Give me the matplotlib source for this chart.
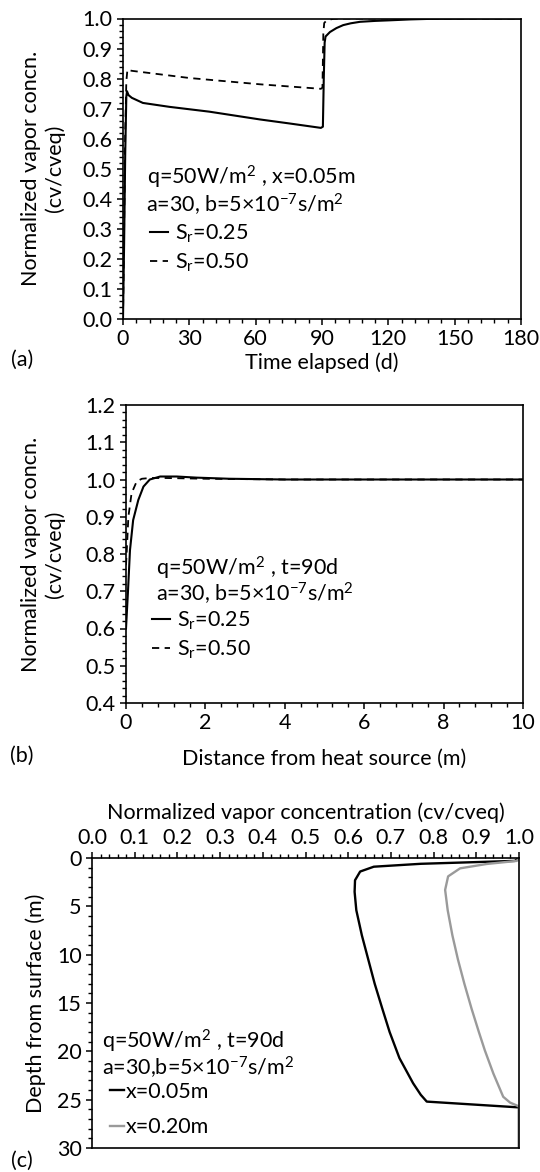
import matplotlib.pyplot as plt
from matplotlib.ticker import MultipleLocator, FormatStrFormatter

plt.rcParams['font.family'] = ['Lato', 'DejaVu Sans']
plt.rcParams['mathtext.fontset'] = 'custom'
plt.rcParams['mathtext.rm'] = 'Lato'
plt.rcParams['mathtext.it'] = 'Lato:italic'
plt.rcParams['mathtext.default'] = 'regular'
plt.rcParams['font.size'] = 15.5
plt.rcParams['axes.linewidth'] = 1.2

# (a) vapor concentration vs time at x = 0.05 m
t_sr25 = [0, 0.5, 1.0, 1.5, 1.8, 2.5, 4, 9, 21, 39, 62, 75, 89.5, 90.4, 90.8,
          91.2, 91.6, 93.6, 96.5, 99.6, 103, 107.2, 114, 120.8, 130, 140, 160, 180]
c_sr25 = [0, 0.25, 0.55, 0.74, 0.758, 0.745, 0.736, 0.719, 0.706, 0.69, 0.664,
          0.651, 0.636, 0.64, 0.80, 0.92, 0.94, 0.955, 0.968, 0.978, 0.984,
          0.989, 0.992, 0.994, 0.997, 0.999, 1.0, 1.0]
t_sr50 = [0, 0.5, 1.0, 1.5, 2.0, 3.9, 30, 62, 89.5, 90.2, 90.6, 91.0, 92.0,
          95.0, 100, 180]
c_sr50 = [0, 0.3, 0.62, 0.79, 0.83, 0.826, 0.802, 0.781, 0.766, 0.77, 0.95,
          0.985, 0.993, 0.999, 1.0, 1.0]

# (b) vapor concentration vs distance at t = 90 d
d_sr25 = [0, 0.05, 0.10, 0.18, 0.31, 0.44, 0.6, 0.86, 1.28, 1.78, 2.6, 4, 10]
v_sr25 = [0.60, 0.70, 0.81, 0.891, 0.945, 0.981, 1.0, 1.008, 1.008, 1.005,
          1.002, 1.0, 1.0]
d_sr50 = [0, 0.02, 0.06, 0.14, 0.27, 0.4, 0.6, 1.0, 2.0, 4, 10]
v_sr50 = [0.77, 0.81, 0.90, 0.963, 0.995, 1.002, 1.004, 1.004, 1.002, 1.0, 1.0]

# (c) vapor concentration vs depth at t = 90 d
z_x05 = [0, 0.3, 0.6, 0.9, 1.4, 2.3, 3.5, 5.4, 8, 10.5, 13, 15.6, 18, 20.7,
         23.3, 24.5, 25.2, 25.8, 27, 30]
c_x05 = [1.0, 0.99, 0.77, 0.66, 0.628, 0.616, 0.615, 0.619, 0.632, 0.647,
         0.662, 0.680, 0.697, 0.720, 0.752, 0.770, 0.784, 1.0, 1.0, 1.0]
z_x20 = [0, 0.3, 0.62, 1.07, 1.9, 3.3, 5.4, 8, 10.5, 13, 15.6, 18, 19.9, 22.3,
         24.7, 25.3, 25.7, 27, 30]
c_x20 = [1.0, 0.995, 0.924, 0.862, 0.834, 0.827, 0.833, 0.844, 0.857, 0.872,
         0.889, 0.906, 0.920, 0.940, 0.963, 0.979, 1.0, 1.0, 1.0]

W, H = 540, 1172
box_a = (123, 18.5, 521, 319)
box_b = (126, 405, 523, 703)
box_c = (92, 858, 519, 1148)


def rect(box):
    l, t, r, b = box
    return [l / W, 1 - b / H, (r - l) / W, (b - t) / H]


def frac(box, x, y):
    # pixel position -> axes fraction
    l, t, r, b = box
    return (x - l) / (r - l), (b - y) / (b - t)


def style(ax):
    ax.tick_params(which='major', direction='out', length=4.5, width=1.1,
                   pad=3)
    ax.tick_params(which='minor', direction='out', length=2.8, width=1.0)
    for s in ax.spines.values():
        s.set_linewidth(1.2)


fig = plt.figure(figsize=(W / 100, H / 100), dpi=100)
params = r'a=30, b=5×10$^{-7}$s/m$^2$'

# ---- (a)
ax = fig.add_axes(rect(box_a))
ax.plot(t_sr25, c_sr25, color='black', lw=1.5, label='S$_r$=0.25')
ax.plot(t_sr50, c_sr50, color='black', lw=1.3, ls=(0, (4, 3)),
        label='S$_r$=0.50')
ax.set_xlim(0, 180)
ax.set_ylim(0, 1.0)
ax.xaxis.set_major_locator(MultipleLocator(30))
ax.xaxis.set_minor_locator(MultipleLocator(6))
ax.yaxis.set_major_locator(MultipleLocator(0.1))
ax.yaxis.set_minor_locator(MultipleLocator(0.02))
ax.yaxis.set_major_formatter(FormatStrFormatter('%.1f'))
style(ax)
ax.set_xlabel('Time elapsed (d)', labelpad=2)
ax.set_ylabel('Normalized vapor concn.\n(cv/cveq)', linespacing=1.2)
ax.yaxis.set_label_coords(*frac(box_a, 65, 0))
ax.yaxis.label.set_position((ax.yaxis.label.get_position()[0], 0.5))
ax.text(*frac(box_a, 147, 177), r'q=50W/m$^2$ , x=0.05m', transform=ax.transAxes,
        va='center')
ax.text(*frac(box_a, 146, 205), params, transform=ax.transAxes, va='center')
ax.legend(loc='upper left', bbox_to_anchor=frac(box_a, 150, 223),
          frameon=False, handlelength=0.85, handletextpad=0.3,
          labelspacing=0.3, borderpad=0, borderaxespad=0)
fig.text(22 / W, 1 - 360 / H, '(a)', ha='center', va='center')

# ---- (b)
ax = fig.add_axes(rect(box_b))
ax.plot(d_sr25, v_sr25, color='black', lw=1.5, label='S$_r$=0.25')
ax.plot(d_sr50, v_sr50, color='black', lw=1.3, ls=(0, (4, 3)),
        label='S$_r$=0.50')
ax.set_xlim(0, 10)
ax.set_ylim(0.4, 1.2)
ax.xaxis.set_major_locator(MultipleLocator(2))
ax.xaxis.set_minor_locator(MultipleLocator(0.4))
ax.yaxis.set_major_locator(MultipleLocator(0.1))
ax.yaxis.set_minor_locator(MultipleLocator(0.02))
ax.yaxis.set_major_formatter(FormatStrFormatter('%.1f'))
style(ax)
ax.set_xlabel('Distance from heat source (m)', labelpad=11)
ax.set_ylabel('Normalized vapor concn.\n(cv/cveq)', linespacing=1.2)
ax.yaxis.set_label_coords(*frac(box_b, 65, 0))
ax.yaxis.label.set_position((ax.yaxis.label.get_position()[0], 0.5))
ax.text(*frac(box_b, 156, 568), r'q=50W/m$^2$ , t=90d', transform=ax.transAxes,
        va='center')
ax.text(*frac(box_b, 156, 594), params, transform=ax.transAxes, va='center')
ax.legend(loc='upper left', bbox_to_anchor=frac(box_b, 152, 610),
          frameon=False, handlelength=0.85, handletextpad=0.3,
          labelspacing=0.3, borderpad=0, borderaxespad=0)
fig.text(22 / W, 1 - 756 / H, '(b)', ha='center', va='center')

# ---- (c)
ax = fig.add_axes(rect(box_c))
ax.plot(c_x05, z_x05, color='black', lw=1.7, label='x=0.05m')
ax.plot(c_x20, z_x20, color='#9a9a9a', lw=1.7, label='x=0.20m')
ax.set_xlim(0, 1.0)
ax.set_ylim(30, 0)
ax.xaxis.tick_top()
ax.xaxis.set_label_position('top')
ax.xaxis.set_major_locator(MultipleLocator(0.1))
ax.xaxis.set_minor_locator(MultipleLocator(0.02))
ax.xaxis.set_major_formatter(FormatStrFormatter('%.1f'))
ax.yaxis.set_major_locator(MultipleLocator(5))
ax.yaxis.set_minor_locator(MultipleLocator(1))
style(ax)
ax.set_xlabel('Normalized vapor concentration (cv/cveq)', labelpad=6)
ax.set_ylabel('Depth from surface (m)', labelpad=8)
ax.text(*frac(box_c, 102, 1041), r'q=50W/m$^2$ , t=90d', transform=ax.transAxes,
        va='center')
ax.text(*frac(box_c, 102, 1068), r'a=30,b=5×10$^{-7}$s/m$^2$',
        transform=ax.transAxes, va='center')
ax.legend(loc='upper left', bbox_to_anchor=frac(box_c, 110, 1082),
          frameon=False, handlelength=0.65, handletextpad=0.1,
          labelspacing=0.7, borderpad=0, borderaxespad=0)
fig.text(22 / W, 1 - 1161 / H, '(c)', ha='center', va='center')

fig.savefig('out.png', dpi=100)
